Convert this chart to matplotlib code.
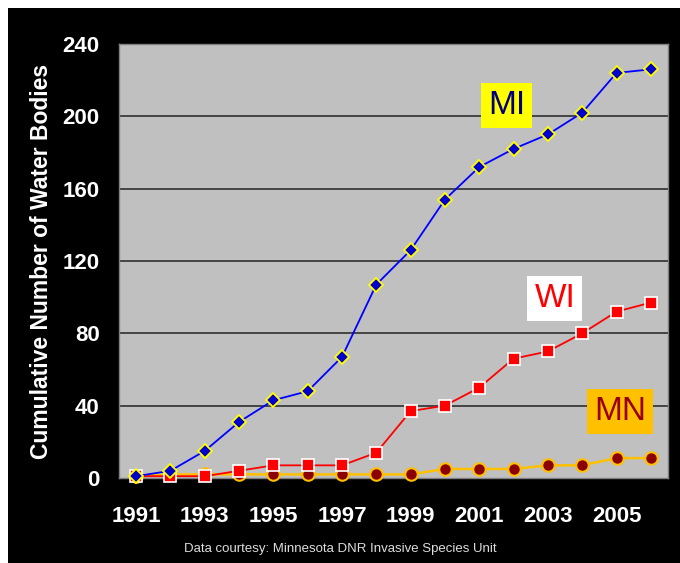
import matplotlib.pyplot as plt
from matplotlib.patches import Rectangle

years = list(range(1991, 2007))
mi_counts = [1, 4, 15, 31, 43, 48, 67, 107, 126, 154, 172, 182, 190, 202, 224, 226]
wi_counts = [1, 1, 1, 4, 7, 7, 7, 14, 37, 40, 50, 66, 70, 80, 92, 97]
mn_counts = [1, 2, 2, 2, 2, 2, 2, 2, 2, 5, 5, 5, 7, 7, 11, 11]
year_ticks = list(range(1991, 2006, 2))
value_ticks = [0, 40, 80, 120, 160, 200, 240]

plt.rcParams['font.family'] = ['Liberation Sans', 'DejaVu Sans']

fig = plt.figure(figsize=(6.8, 5.63), dpi=100)
fig.patch.set_facecolor('white')
# black slide background with a thin white margin top/left
bg = Rectangle((8 / 680, 0), 1 - 8 / 680, 1 - 8 / 563,
               transform=fig.transFigure, facecolor='black',
               edgecolor='none', zorder=-10)
fig.add_artist(bg)

ax = fig.add_axes([119 / 680, 85 / 563, 549 / 680, 434 / 563])
ax.set_facecolor('#C0C0C0')

# gridlines
for v in value_ticks[1:-1]:
    ax.axhline(v, color='#3a3a3a', linewidth=1.3, zorder=1)

ax.plot(years, mn_counts, '-o', color='#FFC000', linewidth=1.8,
        markerfacecolor='#8B0000', markeredgecolor='#FFC000', markeredgewidth=1.5,
        markersize=9, zorder=3, clip_on=False)
ax.plot(years, wi_counts, '-s', color='#FF0000', linewidth=1.3,
        markerfacecolor='#FF0000', markeredgecolor='white', markeredgewidth=1.2,
        markersize=8, zorder=4, clip_on=False)
ax.plot(years, mi_counts, '-D', color='#0000FF', linewidth=1.3,
        markerfacecolor='#0000CC', markeredgecolor='#FFFF00', markeredgewidth=1.3,
        markersize=7, zorder=5, clip_on=False)

ax.set_xlim(1990.5, 2006.5)
ax.set_ylim(0, 240)
ax.set_xticks(year_ticks)
ax.set_yticks(value_ticks)
ax.tick_params(length=0, colors='white', labelsize=16)
ax.tick_params(axis='x', pad=20)
ax.tick_params(axis='y', pad=14)
for lbl in ax.get_xticklabels() + ax.get_yticklabels():
    lbl.set_fontweight('bold')

for s in ax.spines.values():
    s.set_color('#808080')
    s.set_linewidth(1)

ax.set_ylabel('Cumulative Number of Water Bodies', color='white',
              fontsize=16.5, fontweight='bold', labelpad=7)

ax.text(2001.8, 206, 'MI', fontsize=24, color='#000080', ha='center', va='center',
        bbox=dict(facecolor='#FFFF00', edgecolor='none', pad=5), zorder=6)
ax.text(2003.2, 99, 'WI', fontsize=24, color='#FF0000', ha='center', va='center',
        bbox=dict(facecolor='white', edgecolor='none', pad=5), zorder=6)
ax.text(2005.1, 37, 'MN', fontsize=24, color='#990000', ha='center', va='center',
        bbox=dict(facecolor='#FFC000', edgecolor='none', pad=5), zorder=6)

fig.text(0.5, 1 - 549 / 563, 'Data courtesy: Minnesota DNR Invasive Species Unit',
         color='#dddddd', fontsize=9.5, ha='center', va='center')

fig.savefig('out.png', dpi=100, facecolor=fig.get_facecolor())
